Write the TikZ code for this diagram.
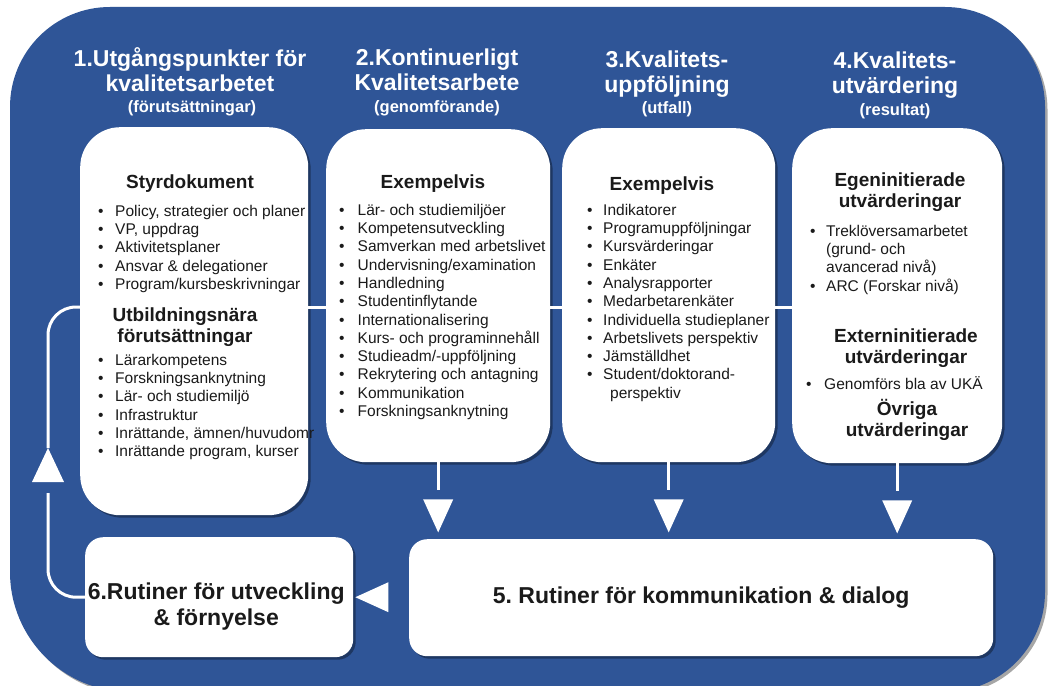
\documentclass[tikz,border=0pt]{standalone}
\usepackage{fontspec}
\setmainfont{Liberation Sans}
\usetikzlibrary{shadows,calc}
\definecolor{bgblue}{HTML}{2F5597}
\definecolor{txt}{HTML}{1A1A1A}
\newcommand\fs{\rule{0pt}{14pt}}
\newcommand\hs{\rule{0pt}{18pt}}
\newcommand\bul[2][17pt]{\makebox[#1][l]{\textbullet}#2}
\newcommand\cont[2][17pt]{\hspace*{#1}#2}
\frenchspacing
\tikzset{
  shad/.style={drop shadow={shadow xshift=2.5pt,shadow yshift=-2.5pt,opacity=0.35,fill=black}},
  wbox/.style={fill=white,rounded corners=40pt,shad,inner sep=0pt,anchor=north west},
  sbox/.style={wbox,rounded corners=18pt},
  hdr/.style={font=\bfseries\fontsize{23}{25}\selectfont,align=center,text=white,inner sep=0pt,anchor=north},
  sub/.style={font=\bfseries\fontsize{16.5}{18}\selectfont,text=white,inner sep=0pt,anchor=base},
  bhead/.style={font=\bfseries\fontsize{19}{21.5}\selectfont,align=center,inner sep=0pt,anchor=north,text=txt},
  bhead1/.style={font=\bfseries\fontsize{19}{21.5}\selectfont,inner sep=0pt,anchor=base,text=txt},
  lst/.style={font=\fontsize{15.5}{18.3}\selectfont,align=left,inner sep=0pt,anchor=north west,text=txt},
  big/.style={font=\bfseries\fontsize{23}{26}\selectfont,align=center,inner sep=0pt,text=txt},
  wline/.style={draw=white,line width=3pt}
}
\begin{document}
\begin{tikzpicture}[x=1pt,y=-1pt]
\useasboundingbox (0,0) rectangle (1051,685);
\clip (0,0) rectangle (1051,685);
\fill[white] (0,0) rectangle (1051,685);
% blue background
\fill[bgblue,shad] (10,107) arc[start angle=180,end angle=90,radius=100pt]
  -- (945,7) arc[start angle=90,end angle=0,radius=100pt]
  -- (1045,592) arc[start angle=0,end angle=-90,radius=100pt]
  -- (130,692) arc[start angle=270,end angle=180,radius=120pt] -- cycle;

\coordinate (yl) at (0,307);

% headers
\node[hdr] (h1) at (190,47) {\hs1.Utgångspunkter för\\kvalitetsarbetet};
\node[sub] (s1) at (192,112) {(förutsättningar)};
\node[hdr] (h2) at (437,47) {\hs2.Kontinuerligt\\Kvalitetsarbete};
\node[sub] (s2) at (437,112) {(genomförande)};
\node[hdr] (h3) at (667,49) {\hs3.Kvalitets-\\uppföljning};
\node[sub] (s3) at (667,113) {(utfall)};
\node[hdr] (h4) at (895,50) {\hs4.Kvalitets-\\utvärdering};
\node[sub] (s4) at (895,115) {(resultat)};

% boxes
\node[wbox,minimum width=228pt,minimum height=388pt] (b1) at (80,127) {};
\node[wbox,minimum width=224pt,minimum height=333pt] (b2) at (326,129) {};
\node[wbox,minimum width=213pt,minimum height=334pt] (b3) at (562,128) {};
\node[wbox,minimum width=210pt,minimum height=335pt] (b4) at (792,128) {};
\node[sbox,minimum width=584pt,minimum height=117pt] (b5) at (409,539) {};
\node[sbox,minimum width=268pt,minimum height=120pt] (b6) at (85,537) {};

% connectors between top boxes
\draw[wline] (b1.east |- yl) -- (b2.west |- yl);
\draw[wline] (b2.east |- yl) -- (b3.west |- yl);
\draw[wline] (b3.east |- yl) -- (b4.west |- yl);

% down arrows
\foreach \b in {b2,b3,b4}{
  \draw[wline] (\b.south) -- ++(0,28);
  \fill[white] ($(\b.south)+(-15,37)$) -- ($(\b.south)+(15,37)$) -- ($(\b.south)+(0,70)$) -- cycle;
}
% left arrow into box 6
\fill[white] ($(b6.east)+(2,0)$) -- ($(b6.east)+(35,-15)$) -- ($(b6.east)+(35,15)$) -- cycle;

% feedback loop
\coordinate (fblow) at (48,493);
\coordinate (fbtip) at (48,448);
\draw[wline,rounded corners=28pt] (b6.west) -| (fblow);
\fill[white] (fbtip) -- ($(fbtip)+(16,34)$) -- ($(fbtip)+(-16,34)$) -- cycle;
\draw[wline,rounded corners=28pt] (fbtip) |- (b1.west |- yl);

% box 1 content
\node[bhead1] (t1) at (190,188) {Styrdokument};
\node[lst] (l1a) at (98,202) {\fs\bul{Policy, strategier och planer}\\
\bul{VP, uppdrag}\\
\bul{Aktivitetsplaner}\\
\bul{Ansvar \& delegationer}\\
\bul{Program/kursbeskrivningar}};
\node[bhead] (t1b) at (185,303) {\hs Utbildningsnära\\förutsättningar};
\node[lst] (l1b) at (98,351) {\fs\bul{Lärarkompetens}\\
\bul{Forskningsanknytning}\\
\bul{Lär- och studiemiljö}\\
\bul{Infrastruktur}\\
\bul{Inrättande, ämnen/huvudomr}\\
\bul{Inrättande program, kurser}};

% box 2 content
\node[bhead1] (t2) at (433,188) {Exempelvis};
\node[lst] (l2) at (339,201) {\fs\bul[18.5pt]{Lär- och studiemiljöer}\\
\bul[18.5pt]{Kompetensutveckling}\\
\bul[18.5pt]{Samverkan med arbetslivet}\\
\bul[18.5pt]{Undervisning/examination}\\
\bul[18.5pt]{Handledning}\\
\bul[18.5pt]{Studentinflytande}\\
\bul[18.5pt]{Internationalisering}\\
\bul[18.5pt]{Kurs- och programinnehåll}\\
\bul[18.5pt]{Studieadm/-uppföljning}\\
\bul[18.5pt]{Rekrytering och antagning}\\
\bul[18.5pt]{Kommunikation}\\
\bul[18.5pt]{Forskningsanknytning}};

% box 3 content
\node[bhead1] (t3) at (662,190) {Exempelvis};
\node[lst] (l3) at (587,201) {\fs\bul[16pt]{Indikatorer}\\
\bul[16pt]{Programuppföljningar}\\
\bul[16pt]{Kursvärderingar}\\
\bul[16pt]{Enkäter}\\
\bul[16pt]{Analysrapporter}\\
\bul[16pt]{Medarbetarenkäter}\\
\bul[16pt]{Individuella studieplaner}\\
\bul[16pt]{Arbetslivets perspektiv}\\
\bul[16pt]{Jämställdhet}\\
\bul[16pt]{Student/doktorand-}\\
\cont[23pt]{perspektiv}};

% box 4 content
\node[bhead] (t4a) at (900,168) {\hs Egeninitierade\\utvärderingar};
\node[lst] (l4a) at (810,222) {\fs\bul[16pt]{Treklöversamarbetet}\\
\cont[16pt]{(grund- och}\\
\cont[16pt]{avancerad nivå)}\\
\bul[16pt]{ARC (Forskar nivå)}};
\node[bhead] (t4b) at (906,324) {\hs Externinitierade\\utvärderingar};
\node[lst] (l4b) at (806,375) {\fs\bul[18pt]{Genomförs bla av UKÄ}};
\node[bhead] (t4c) at (907,397) {\hs Övriga\\utvärderingar};

% box 5 and 6 text
\node[big] (t5) at (b5.center) {5. Rutiner för kommunikation \& dialog};
\node[big] (t6) at ($(b6.center)+(-3,9)$) {6.Rutiner för utveckling\\\& förnyelse};
\end{tikzpicture}
\end{document}
